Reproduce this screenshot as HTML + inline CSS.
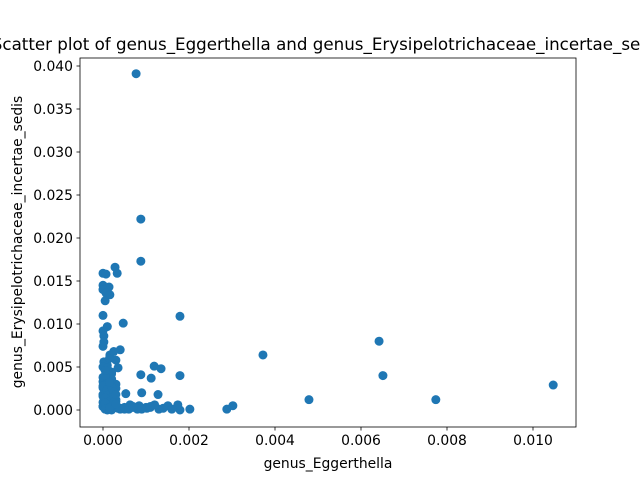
<!DOCTYPE html>
<html><head><meta charset="utf-8"><style>
body{margin:0;background:#fff;overflow:hidden}
svg text{font-family:"DejaVu Sans","Liberation Sans",sans-serif;fill:#000}
</style></head><body>
<svg id="chart" width="640" height="480" xmlns="http://www.w3.org/2000/svg">
<rect width="640" height="480" fill="#fff"/>
<text x="328" y="50" font-size="16.7" text-anchor="middle">Scatter plot of genus_Eggerthella and genus_Erysipelotrichaceae_incertae_sedis</text>
<g id="points"></g>
<rect x="80" y="58" width="496" height="369" fill="none" stroke="#000" stroke-width="0.8"/>
<g id="axes"></g>
<text x="328" y="468" font-size="13.9" text-anchor="middle">genus_Eggerthella</text>
<text transform="translate(22,242) rotate(-90)" font-size="13.9" text-anchor="middle">genus_Erysipelotrichaceae_incertae_sedis</text>
</svg>
<script>
const xVals=[0.00077,0.00088,0.00088,0.00028,0.00033,0,0.00007,0,0.00014,0,0.00007,0.00016,0.00005,0,0.00179,0.00047,0.0001,0,0.00002,0.00002,0,0.0004,0.00016,0.0003,0.00002,0.00005,0.00119,0.00135,0.00035,0.00088,0.00112,0.00179,0.00372,0.00642,0.00651,0.00479,0.00774,0.01047,0.00288,0.00302,0.00202,0.00179,0.00174,0.00151,0.00128,0.0009,0.00053,0.00084,0.00102,0.00063,0.00035,0.0013,0.0005,0.0001,0.0002,0,0.0001,0.0002,0.0003,0,0.0001,0.0002,0,0.0001,0.0002,0.0003,0,0.0001,0.0002,0,0.0001,0.0002,0.0003,0.0001,0.0002,0.0004,0.0006,0.0007,0.0008,0.001,0.0011,0.0012,0.0001,0.0003,0.0002,0,0.0001,0.0002,0,0.0001,0.0002,0,0.0001,0.0002,0,0.0001,0.0002,0.0003,0,0.0001,0.0002,0.0003,0.00005,0.00015,0.00025,0.00005,0.00015,0.00025,0.00005,0.00015,0.00025,0.00005,0.00015,0.00005,0.00015,0.00025,0.0004,0.0005,0.0006,0.0007,0.0009,0.0011,0.0014,0.0016,0.0003,0.0003];
const yVals=[0.0391,0.0222,0.0173,0.0166,0.0159,0.0159,0.0158,0.0145,0.0143,0.014,0.0136,0.0134,0.0127,0.011,0.0109,0.0101,0.0097,0.0092,0.0086,0.0079,0.0074,0.007,0.0064,0.0058,0.0056,0.0047,0.0051,0.0048,0.0049,0.0041,0.0037,0.004,0.0064,0.008,0.004,0.0012,0.0012,0.0029,0.0001,0.0005,0.0001,0,0.0006,0.0005,0.0018,0.002,0.0019,0.0005,0.0002,0.0006,0.0002,0.0001,0.0001,0.0045,0.0042,0.0038,0.0034,0.003,0.003,0.0026,0.0023,0.0021,0.0018,0.0015,0.0013,0.0012,0.0009,0.0007,0.0006,0.0004,0.0003,0.0002,0.0003,0,0,0.0001,0.0002,0.0003,0.0001,0.0003,0.0004,0.0006,0.0052,0.0025,0.0035,0.005,0.0049,0.0044,0.0033,0.0031,0.0036,0.0028,0.0024,0.0027,0.0016,0.0017,0.0011,0.001,0.0004,0.0005,0.0008,0.0006,0.0040,0.0032,0.0021,0.0014,0.0010,0.0016,0.0008,0.0003,0.0009,0.0001,0.0002,0.0046,0.0060,0.0068,0.0002,0.0003,0.0001,0.0004,0.0001,0.0003,0.0002,0.0001,0.0018,0.0007];
const xTicks=[0,0.002,0.004,0.006,0.008,0.010];
const xTickLabels=["0.000","0.002","0.004","0.006","0.008","0.010"];
const yTicks=[0,0.005,0.01,0.015,0.02,0.025,0.03,0.035,0.04];
const yTickLabels=["0.000","0.005","0.010","0.015","0.020","0.025","0.030","0.035","0.040"];
const NS="http://www.w3.org/2000/svg";
const sx=v=>103+v*43000, sy=v=>410-v*8600;
const pg=document.getElementById('points');
xVals.forEach((x,i)=>{const c=document.createElementNS(NS,'circle');
c.setAttribute('cx',sx(x));c.setAttribute('cy',sy(yVals[i]));c.setAttribute('r',4.5);c.setAttribute('fill','#1f77b4');


pg.appendChild(c);});
const ag=document.getElementById('axes');
function add(tag,attrs,txt){const e=document.createElementNS(NS,tag);for(const k in attrs)e.setAttribute(k,attrs[k]);if(txt!==undefined)e.textContent=txt;ag.appendChild(e);return e;}
xTicks.forEach((t,i)=>{const x=sx(t);
const l=add('line',{x1:x,x2:x,y1:427,y2:430.5,stroke:'#000','stroke-width':0.8});


const s=add('text',{x:x,y:445,'font-size':13.9,'text-anchor':'middle'},xTickLabels[i]);

});
yTicks.forEach((t,i)=>{const y=sy(t);
const l=add('line',{x1:76.5,x2:80,y1:y,y2:y,stroke:'#000','stroke-width':0.8});


const s=add('text',{x:73,y:y+5,'font-size':13.9,'text-anchor':'end'},yTickLabels[i]);

});
</script>
</body></html>
